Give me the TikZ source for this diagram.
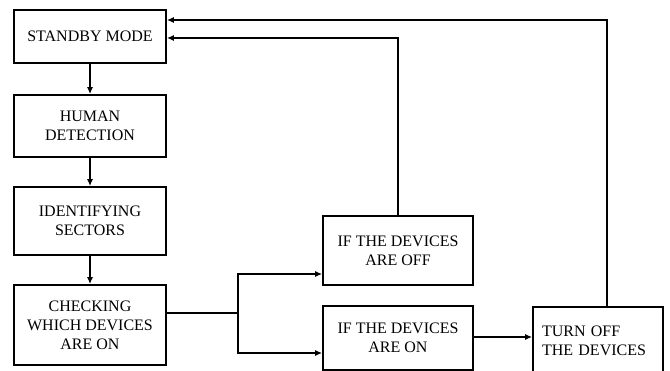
\documentclass[tikz,border=0pt]{standalone}
\usepackage{fontspec}
\setmainfont{Liberation Serif}
\usetikzlibrary{arrows.meta,calc}
\begin{document}
\begin{tikzpicture}[x=1pt,y=-1pt,
  box/.style={draw,line width=1.8pt,inner sep=0pt,align=center,font=\fontsize{16}{19}\selectfont},
  conn/.style={line width=1.3pt,-{Latex[length=7pt,width=6pt]}},
  plain/.style={line width=1.3pt}]
\useasboundingbox (0,0) rectangle (670,371);
\clip (0,0) rectangle (670,371);
\node[box,minimum width=152pt,minimum height=53pt] (sb) at (90,36.5) {STANDBY MODE};
\node[box,minimum width=152pt,minimum height=62pt] (hd) at (90,126) {HUMAN\\DETECTION};
\node[box,minimum width=152pt,minimum height=68pt] (id) at (90,221) {IDENTIFYING\\SECTORS};
\node[box,minimum width=152pt,minimum height=80pt] (ck) at (90,325) {CHECKING\\WHICH DEVICES\\ARE ON};
\node[box,minimum width=150pt,minimum height=69pt] (off) at (398,250.5) {IF THE DEVICES\\ARE OFF};
\node[box,minimum width=150pt,minimum height=64pt] (on) at (398,338) {IF THE DEVICES\\ARE ON};
\node[box,minimum width=130pt,minimum height=68pt,align=left,text width=112pt] (to) at (598,341) {TURN OFF\\THE DEVICES};
\coordinate (br) at (238,313);
\coordinate (c1) at (607,20);
\coordinate (c2) at (398,38);
\draw[conn] (sb) -- (hd);
\draw[conn] (hd) -- (id);
\draw[conn] (id) -- (ck);
\draw[plain] (ck.east |- br) -- (br);
\draw[conn] (br) |- (off.west |- 0,274);
\draw[conn] (br) |- (on.west |- 0,353);
\draw[conn] (on.east |- 0,337) -- (to.west |- 0,337);
\draw[conn] (to.north -| c1) -- (c1) -- (sb.east |- c1);
\draw[conn] (off.north) -- (c2) -- (sb.east |- c2);
\end{tikzpicture}
\end{document}
